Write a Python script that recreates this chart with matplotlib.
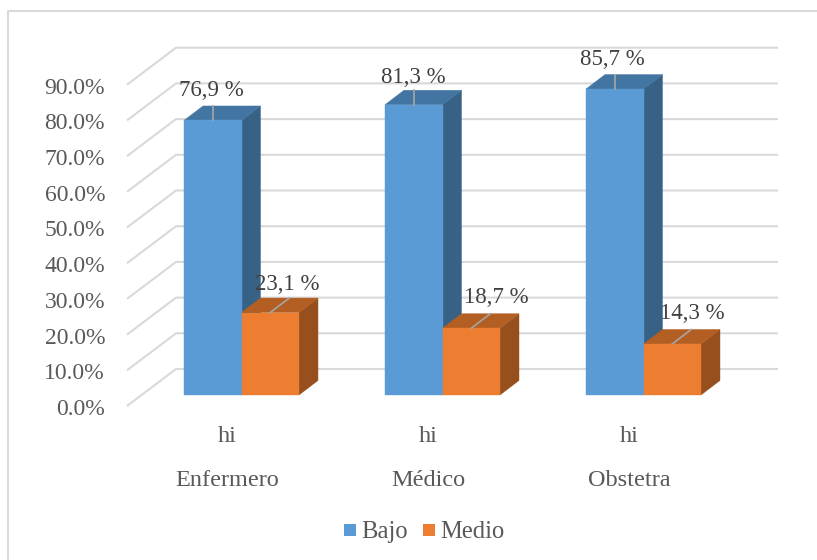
import matplotlib
matplotlib.use("Agg")
import matplotlib.pyplot as plt
from matplotlib.patches import Polygon, Rectangle

plt.rcParams['font.family'] = ['Liberation Serif', 'DejaVu Serif']

categories = ['Enfermero', 'Médico', 'Obstetra']
sub_labels = ['hi', 'hi', 'hi']
bajo = [76.9, 81.3, 85.7]
medio = [23.1, 18.7, 14.3]
bajo_labels = ['76,9 %', '81,3 %', '85,7 %']
medio_labels = ['23,1 %', '18,7 %', '14,3 %']
ticks = [0, 10, 20, 30, 40, 50, 60, 70, 80, 90]
tick_labels = ['%.1f%%' % t for t in ticks]

W, H = 817, 560
PX_Y = 3.57      # pixels per percent
PX_X = 201.0     # pixels per category
X0, Y0 = 241.5, 395.0   # pixel position of first category, zero level

# label nudges in pixels from the default place (dx, up)
bajo_nudge = [(-1, 30), (-0.5, 27), (-2, 30)]
medio_nudge = [(17, 28), (25, 31), (20, 30)]


def dx(px):
    return px / PX_X


def dy(px):
    return px / PX_Y


fig = plt.figure(figsize=(W / 100, H / 100), dpi=100)
ax = fig.add_axes([0, 0, 1, 1])
ax.set_xlim(-X0 / PX_X, (W - X0) / PX_X)
ax.set_ylim(-(H - Y0) / PX_Y, Y0 / PX_Y)
ax.axis('off')

# chart frame, only top and left fall inside the picture
grid_col = '#D9D9D9'
ax.plot([dx(8 - X0), dx(8 - X0), dx(W - X0)],
        [dy(Y0 - H), dy(Y0 - 11), dy(Y0 - 11)], color=grid_col, lw=1.5, zorder=1)

# gridlines: side wall then back wall
for t, lab in zip(ticks, tick_labels):
    xs = [dx(127 - X0), dx(176 - X0), dx(778 - X0)]
    ys = [t + dy(-11), t + dy(26), t + dy(26)]
    ax.plot(xs, ys, color=grid_col, lw=1.5, zorder=1, solid_capstyle='butt')
    ax.text(dx(105 - X0), t + dy(-14.5), lab, ha='right', va='center',
            fontsize=17, color='#595959')


def bar3d(x_left, x_right, val, front, side, top):
    depth_x, depth_y = dx(19), dy(14.5)
    ax.add_patch(Polygon([(x_right, 0), (x_right + depth_x, depth_y),
                          (x_right + depth_x, val + depth_y), (x_right, val)],
                         facecolor=side, edgecolor=side, lw=0.3, zorder=3))
    ax.add_patch(Polygon([(x_left, val), (x_left + depth_x, val + depth_y),
                          (x_right + depth_x, val + depth_y), (x_right, val)],
                         facecolor=top, edgecolor=top, lw=0.3, zorder=3))
    ax.add_patch(Rectangle((x_left, 0), x_right - x_left, val,
                           facecolor=front, edgecolor=front, lw=0.3, zorder=3))


bw = 57.5 / PX_X
for i in range(len(categories)):
    bar3d(i - bw, i, bajo[i], '#5B9BD5', '#386285', '#4375A3')
    bar3d(i, i + bw, medio[i], '#ED7D31', '#97501D', '#B35E22')

    # leader lines
    xc = i - bw / 2
    ax.plot([xc, xc], [bajo[i], bajo[i] + dy(14.5)], color='#A6A6A6', lw=1.2, zorder=4)
    xc2 = i + bw / 2
    ax.plot([xc2, xc2 + dx(19)], [medio[i], medio[i] + dy(14.5)],
            color='#A6A6A6', lw=1.2, zorder=4)

    # data labels
    n = bajo_nudge[i]
    ax.text(xc + dx(n[0]), bajo[i] + dy(n[1]), bajo_labels[i], ha='center', va='center',
            fontsize=16.5, color='#404040', zorder=5)
    n = medio_nudge[i]
    ax.text(xc2 + dx(n[0]), medio[i] + dy(n[1]), medio_labels[i], ha='center', va='center',
            fontsize=16.5, color='#404040', zorder=5)

    # category labels
    ax.text(i - dx(14), dy(Y0 - 436), sub_labels[i], ha='center', va='center',
            fontsize=17.5, color='#595959')
    ax.text(i - dx(14), dy(Y0 - 480), categories[i], ha='center', va='center',
            fontsize=17.5, color='#595959')

# legend
for x_sq, col, lab in [(344, '#5B9BD5', 'Bajo'), (423, '#ED7D31', 'Medio')]:
    ax.add_patch(Rectangle((dx(x_sq - X0), dy(Y0 - 536)), dx(12), dy(12),
                           facecolor=col, edgecolor='none'))
    ax.text(dx(x_sq + 17 - X0), dy(Y0 - 532), lab, ha='left', va='center',
            fontsize=17.7, color='#595959')

fig.savefig('out.png', dpi=100)
